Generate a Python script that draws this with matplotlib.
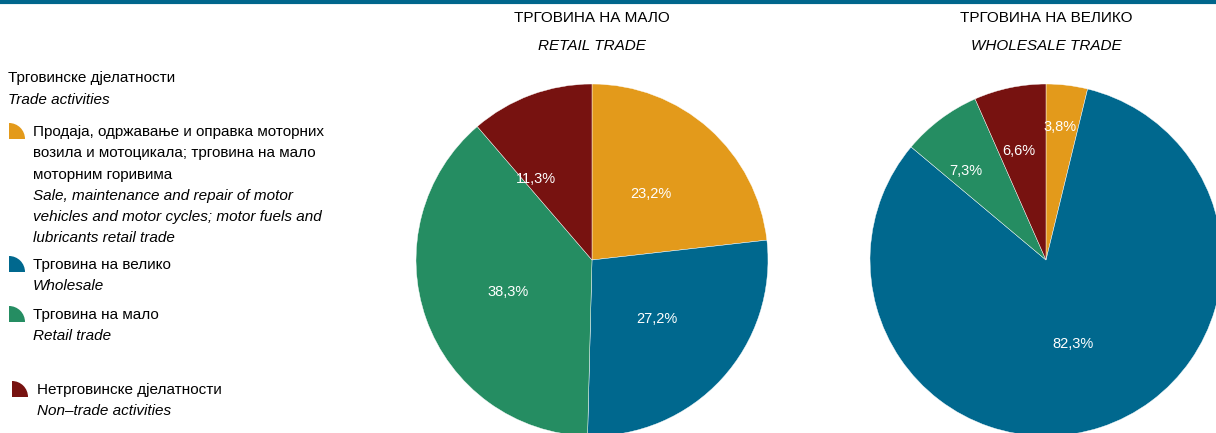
import numpy as np
import matplotlib
matplotlib.use("Agg")
import matplotlib.pyplot as plt
from matplotlib.patches import Wedge

# data
colors = ["#E39A1B", "#00688E", "#258D62", "#771210"]
retail_values = [23.2, 27.2, 38.3, 11.3]
wholesale_values = [3.8, 82.3, 7.3, 6.6]
pie_titles = [("ТРГОВИНА НА МАЛО", "RETAIL TRADE"),
              ("ТРГОВИНА НА ВЕЛИКО", "WHOLESALE TRADE")]
legend_header = ("Трговинске дјелатности", "Trade activities")
legend_items = [
    ["Продаја, одржавање и оправка моторних", "возила и мотоцикала; трговина на мало",
     "моторним горивима"],
    ["Трговина на велико"],
    ["Трговина на мало"],
    ["Нетрговинске дјелатности"],
]
legend_items_en = [
    ["Sale, maintenance and repair of motor", "vehicles and motor cycles; motor fuels and",
     "lubricants retail trade"],
    ["Wholesale"],
    ["Retail trade"],
    ["Non\u2013trade activities"],
]

W, H = 1216, 433
plt.rcParams["font.family"] = ["Liberation Sans", "DejaVu Sans"]

fig = plt.figure(figsize=(W / 100, H / 100), dpi=100)

# overlay axes in pixel coords (y downwards)
bg = fig.add_axes([0, 0, 1, 1])
bg.set_xlim(0, W)
bg.set_ylim(H, 0)
bg.axis("off")
bg.plot([0, W], [1.5, 1.5], color="#00668C", lw=3, solid_capstyle="butt")


def fmt(v):
    return f"{v:.1f}%".replace(".", ",")


def draw_pie(cx, cy, r, values, dists, title):
    ax = fig.add_axes([(cx - r) / W, (H - cy - r) / H, 2 * r / W, 2 * r / H])
    wedges, _ = ax.pie(values, colors=colors, startangle=90, counterclock=False,
                       radius=1, wedgeprops=dict(edgecolor="white", linewidth=0.3))
    ax.set_xlim(-1, 1)
    ax.set_ylim(-1, 1)
    ax.set_aspect("equal")
    ax.axis("off")
    for w, v, d in zip(wedges, values, dists):
        ang = np.deg2rad((w.theta1 + w.theta2) / 2 + d[1])
        ax.text(d[0] * np.cos(ang), d[0] * np.sin(ang), fmt(v), color="white",
                fontsize=10.5, ha="center", va="center")
    bg.text(cx, 18, title[0], fontsize=11, ha="center", va="center")
    bg.text(cx, 46, title[1], fontsize=11, ha="center", va="center", style="italic")


draw_pie(592, 260, 176, retail_values,
         [(0.5, 0), (0.5, 0), (0.51, 1), (0.56, 14)], pie_titles[0])
draw_pie(1046, 260, 176, wholesale_values,
         [(0.76, 1), (0.5, 0), (0.68, 5), (0.64, 2)], pie_titles[1])

# legend
fs = 11
bg.text(8, 78, legend_header[0], fontsize=fs, va="center")
bg.text(8, 100, legend_header[1], fontsize=fs, va="center", style="italic")

item_y = [132, 265, 315, 390]
icon_x = [9, 9, 9, 12]
text_x = [33, 33, 33, 37]
step = 21.3
for i, (sr, en) in enumerate(zip(legend_items, legend_items_en)):
    y = item_y[i]
    # quarter-circle icon, corner at bottom-left
    bg.add_patch(Wedge((icon_x[i], y + 7), 16, 270, 360, color=colors[i], lw=0))
    lines = [(t, "normal") for t in sr] + [(t, "italic") for t in en]
    for k, (t, st) in enumerate(lines):
        bg.text(text_x[i], y + k * step, t, fontsize=fs, va="center", style=st)

fig.savefig("out.png", dpi=100)
